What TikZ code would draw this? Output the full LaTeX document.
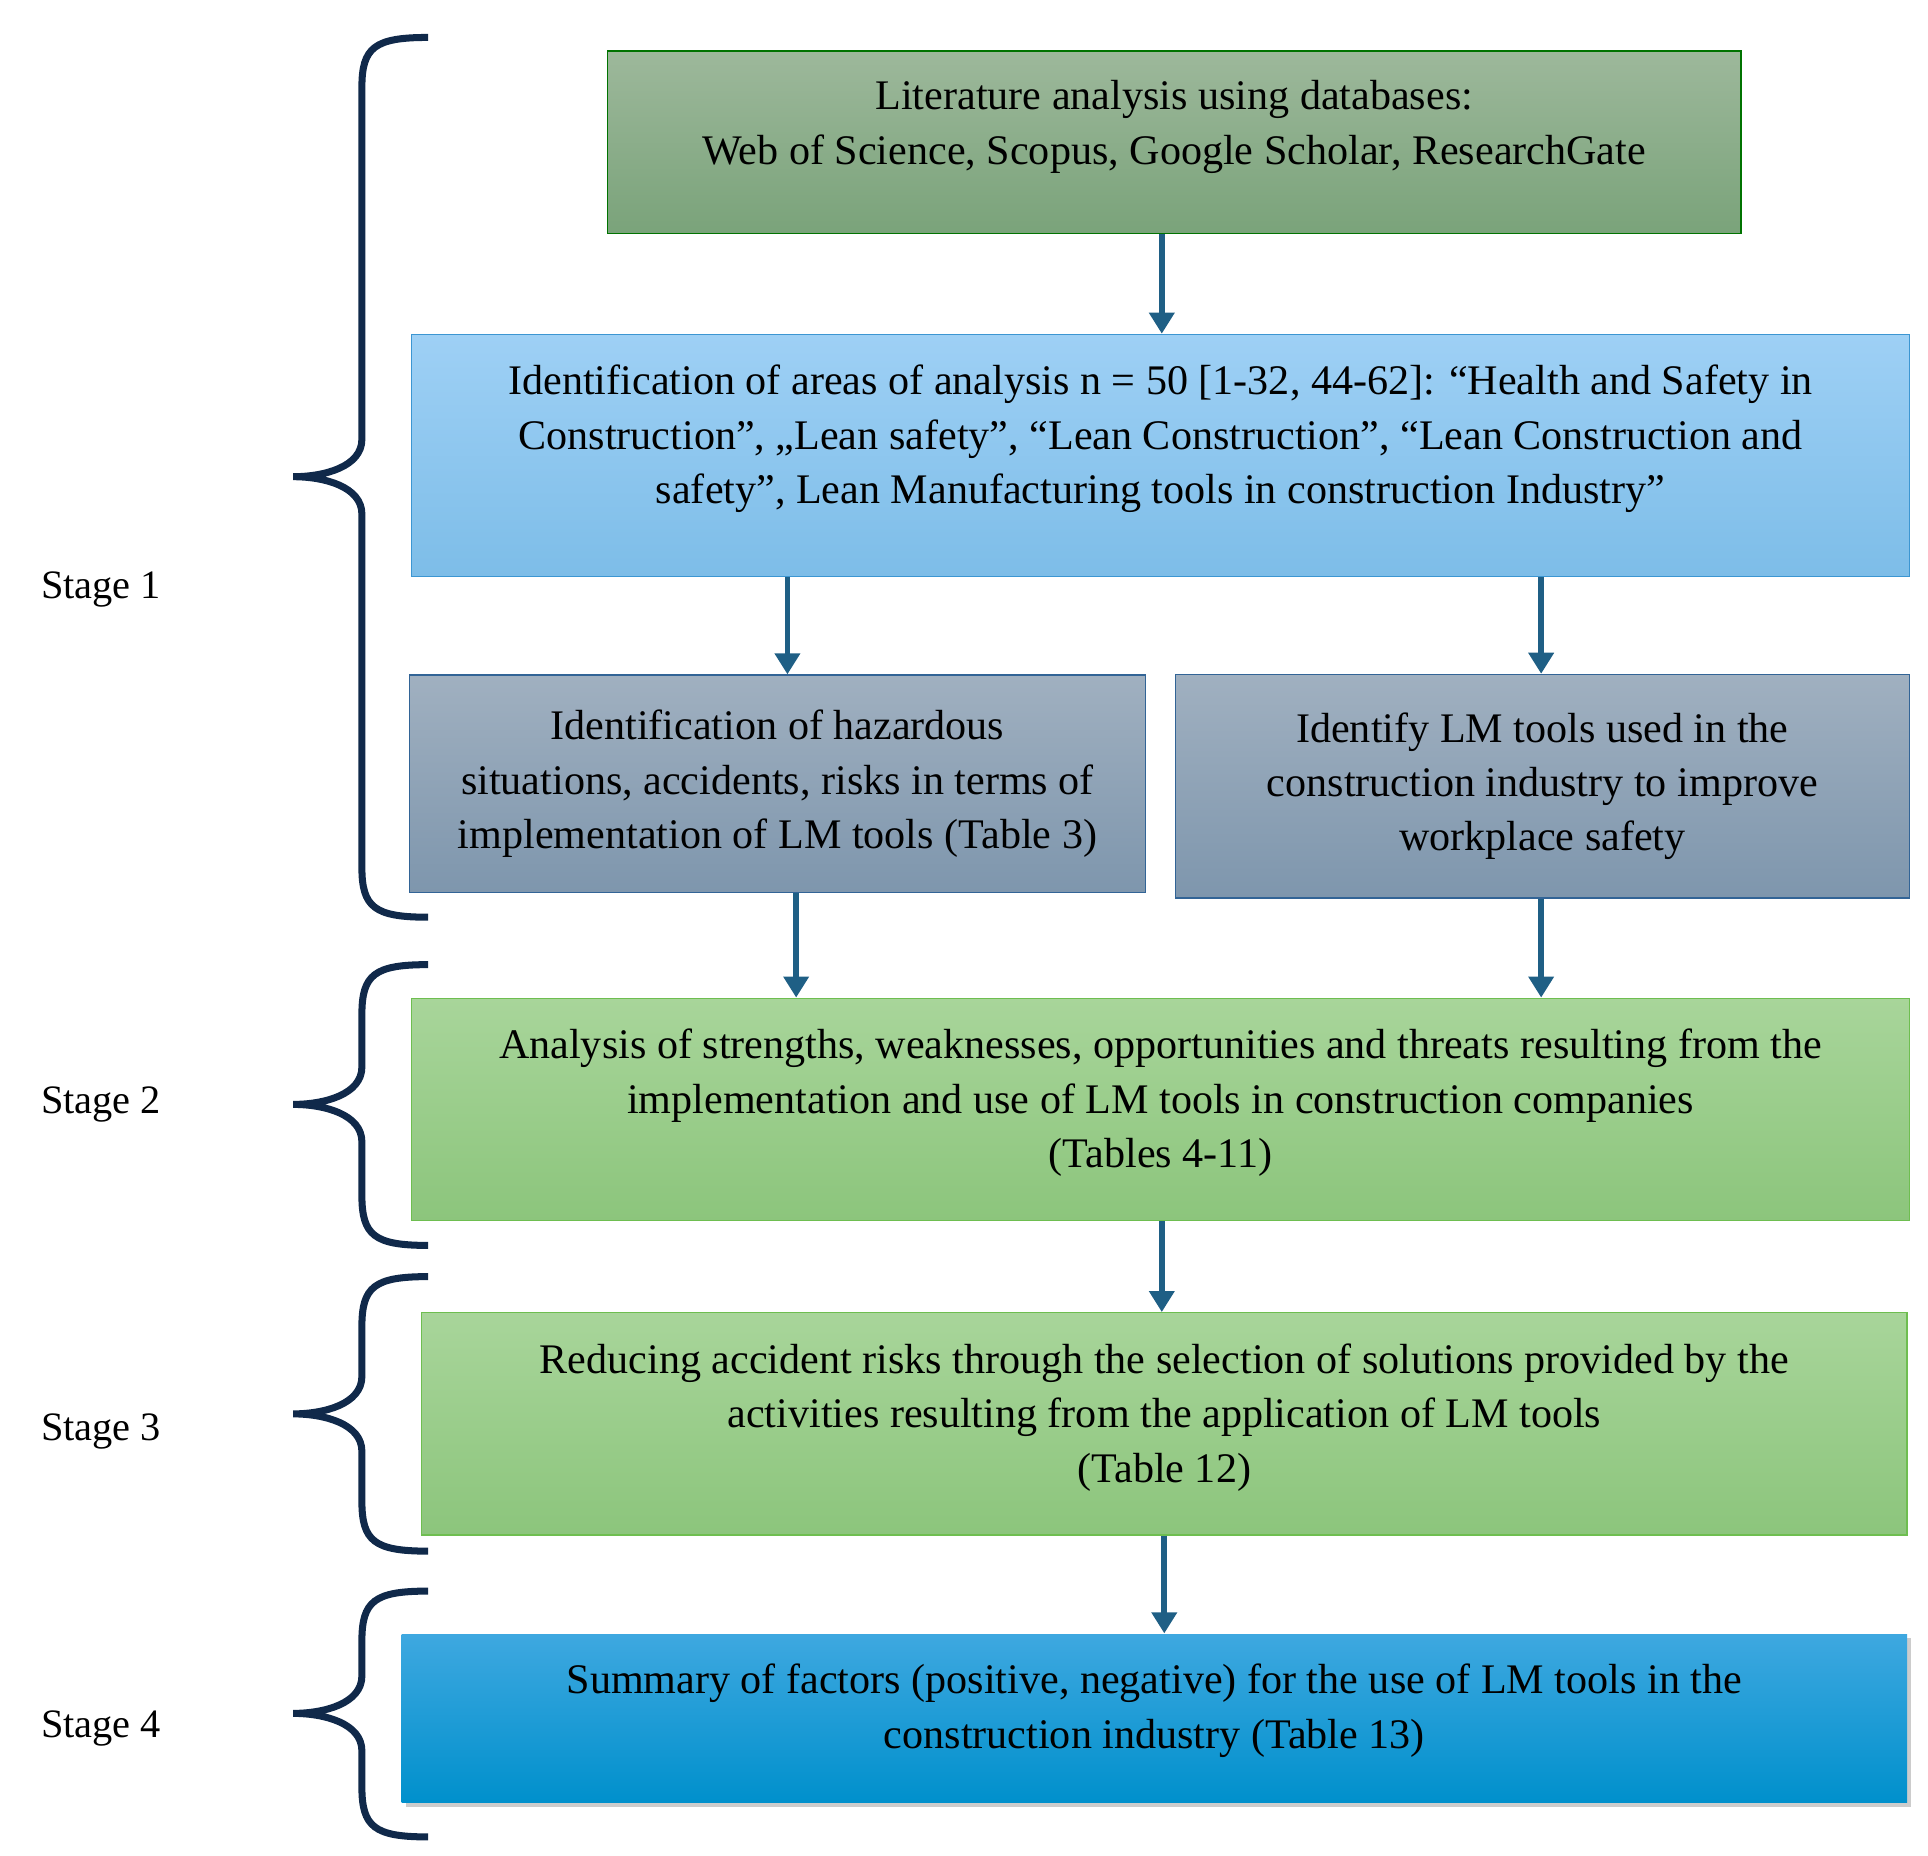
\documentclass[tikz,border=0pt]{standalone}
\usepackage{fontspec}
\setmainfont{Liberation Serif}
\usetikzlibrary{arrows.meta, positioning, shadows}
\definecolor{arrowblue}{HTML}{1F5F85}
\definecolor{bracenavy}{HTML}{10294A}
\tikzset{
    box/.style = {draw, line width=0.8pt, align=center, inner sep=2pt,
        font=\fontsize{24}{31}\selectfont},
    arr/.style = {draw=arrowblue, line width=3.2pt, -{Triangle[width=14pt, length=12pt]}},
    brace/.style = {draw=bracenavy, line width=4pt},
    stage/.style = {anchor=west, font=\fontsize{23}{26}\selectfont}
}
\newcommand{\stagebrace}[3]{
    \draw[brace] (343,#1) .. controls (300,#1) and (290,#1+8) .. (290,#1+40)
        -- (290,#3-30) .. controls (290,#3-8) and (260,#3) .. (235,#3)
        .. controls (260,#3) and (290,#3+8) .. (290,#3+30)
        -- (290,#2-40) .. controls (290,#2-8) and (300,#2) .. (343,#2);
}
\begin{document}
\begin{tikzpicture}[x=0.025cm, y=-0.025cm]
    \useasboundingbox (0,0) rectangle (1545,1487);

    % Boxes
    \node (lit) [box, draw=green!45!black, top color={rgb,255:red,157;green,184;blue,155},
        bottom color={rgb,255:red,122;green,163;blue,122},
        minimum width=22.7cm, minimum height=3.65cm] at (941,114)
        {Literature analysis using databases:\\Web of Science, Scopus, Google Scholar, ResearchGate\\[-0.3cm]};
    \node (areas) [box, draw={rgb,255:red,60;green,150;blue,210}, top color={rgb,255:red,158;green,208;blue,245},
        bottom color={rgb,255:red,125;green,189;blue,232},
        minimum width=30cm, minimum height=4.85cm] at (930,365)
        {Identification of areas of analysis n = 50 [1-32, 44-62]: “Health and Safety in\\
         Construction”, „Lean safety”, “Lean Construction”, “Lean Construction and\\
         safety”, Lean Manufacturing tools in construction Industry”\\[-0.25cm]};
    \node (hazard) [box, draw={rgb,255:red,50;green,100;blue,150}, top color={rgb,255:red,160;green,176;blue,192},
        bottom color={rgb,255:red,126;green,150;blue,173},
        minimum width=14.75cm, minimum height=4.35cm] at (623,628)
        {Identification of hazardous\\situations, accidents, risks in terms of\\implementation of LM tools (Table 3)};
    \node (tools) [box, draw={rgb,255:red,50;green,100;blue,150}, top color={rgb,255:red,160;green,176;blue,192},
        bottom color={rgb,255:red,126;green,150;blue,173},
        minimum width=14.7cm, minimum height=4.475cm] at (1236,630)
        {Identify LM tools used in the\\construction industry to improve\\workplace safety};
    \node (swot) [box, draw={rgb,255:red,110;green,190;blue,80}, top color={rgb,255:red,168;green,213;blue,154},
        bottom color={rgb,255:red,140;green,197;blue,124},
        minimum width=30cm, minimum height=4.45cm] at (930,889)
        {Analysis of strengths, weaknesses, opportunities and threats resulting from the\\
         implementation and use of LM tools in construction companies\\(Tables 4-11)\\[-0.65cm]};
    \node (risk) [box, draw={rgb,255:red,110;green,190;blue,80}, top color={rgb,255:red,168;green,213;blue,154},
        bottom color={rgb,255:red,140;green,197;blue,124},
        minimum width=29.75cm, minimum height=4.45cm] at (933,1141)
        {Reducing accident risks through the selection of solutions provided by the\\
         activities resulting from the application of LM tools\\(Table 12)\\[-0.65cm]};
    \node (summary) [box, draw=none, top color={rgb,255:red,62;green,168;blue,224},
        bottom color={rgb,255:red,0;green,144;blue,204}, drop shadow={opacity=0.4},
        minimum width=30.15cm, minimum height=3.375cm] at (925,1377)
        {Summary of factors (positive, negative) for the use of LM tools in the\\
         construction industry (Table 13)\\[-0.6cm]};

    % Arrows
    \draw[arr] (lit.south -| 931,0) -- (areas.north -| 931,0);
    \draw[arr] (areas.south -| 631,0) -- (hazard.north -| 631,0);
    \draw[arr] (areas.south -| 1235,0) -- (tools.north -| 1235,0);
    \draw[arr] (hazard.south -| 638,0) -- (swot.north -| 638,0);
    \draw[arr] (tools.south -| 1235,0) -- (swot.north -| 1235,0);
    \draw[arr] (swot.south -| 931,0) -- (risk.north -| 931,0);
    \draw[arr] (risk.south -| 933,0) -- (summary.north -| 933,0);

    % Braces
    \stagebrace{30}{735}{382}
    \stagebrace{773}{998}{885}
    \stagebrace{1023}{1243}{1133}
    \stagebrace{1275}{1472}{1373}

    \node (s1) [stage] at (28,472) {Stage 1};
    \node (s2) [stage] at (28,885) {Stage 2};
    \node (s3) [stage] at (28,1147) {Stage 3};
    \node (s4) [stage] at (28,1385) {Stage 4};
\end{tikzpicture}
\end{document}
